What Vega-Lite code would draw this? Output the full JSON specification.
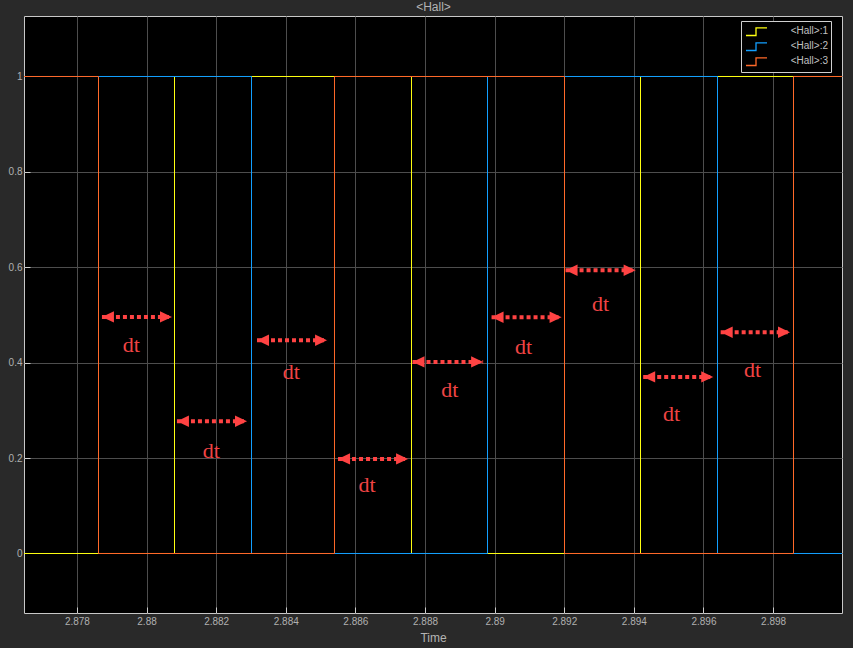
{
  "$schema": "https://vega.github.io/schema/vega-lite/v6.json",
  "width": 818,
  "height": 597,
  "autosize": "none",
  "padding": {"left": 24, "top": 16, "right": 11, "bottom": 35},
  "background": "#292929",
  "resolve": {"axis": {"x": "independent"}},
  "config": {
    "view": {"fill": "#000000", "stroke": "#c8c8c8", "strokeWidth": 1},
    "axis": {
      "grid": true, "gridColor": "#4d4d4d", "gridWidth": 1, "domain": false,
      "ticks": true, "tickSize": -6, "tickColor": "#cfcfcf",
      "labelColor": "#b0b0b0", "labelFont": "Liberation Sans", "labelFontSize": 10,
      "titleColor": "#b4b4b4", "titleFont": "Liberation Sans", "titleFontSize": 12, "titleFontWeight": "normal"
    }
  },
  "datasets": {
    "sig": [
      {"series": "<Hall>:1", "t": 2.87648, "v": 0},
      {"series": "<Hall>:1", "t": 2.8808037, "v": 1},
      {"series": "<Hall>:1", "t": 2.8876123, "v": 0},
      {"series": "<Hall>:1", "t": 2.8941912, "v": 1},
      {"series": "<Hall>:1", "t": 2.89998, "v": 1},
      {"series": "<Hall>:2", "t": 2.87648, "v": 1},
      {"series": "<Hall>:2", "t": 2.8830158, "v": 0},
      {"series": "<Hall>:2", "t": 2.8897957, "v": 1},
      {"series": "<Hall>:2", "t": 2.8964033, "v": 0},
      {"series": "<Hall>:2", "t": 2.89998, "v": 0},
      {"series": "<Hall>:3", "t": 2.87648, "v": 1},
      {"series": "<Hall>:3", "t": 2.8786203, "v": 0},
      {"series": "<Hall>:3", "t": 2.8854002, "v": 1},
      {"series": "<Hall>:3", "t": 2.8920078, "v": 0},
      {"series": "<Hall>:3", "t": 2.8985867, "v": 1},
      {"series": "<Hall>:3", "t": 2.89998, "v": 1}
    ],
    "ann": [
      {"x1": 2.878719, "x2": 2.880731, "y": 0.4960, "tx": 2.879564, "ty": 0.4220, "label": "dt"},
      {"x1": 2.880874, "x2": 2.882886, "y": 0.2774, "tx": 2.881863, "ty": 0.2004, "label": "dt"},
      {"x1": 2.883174, "x2": 2.885186, "y": 0.4472, "tx": 2.884163, "ty": 0.3648, "label": "dt"},
      {"x1": 2.885502, "x2": 2.887514, "y": 0.1983, "tx": 2.886336, "ty": 0.1291, "label": "dt"},
      {"x1": 2.887641, "x2": 2.889670, "y": 0.4017, "tx": 2.888713, "ty": 0.3283, "label": "dt"},
      {"x1": 2.889912, "x2": 2.891924, "y": 0.4954, "tx": 2.890831, "ty": 0.4178, "label": "dt"},
      {"x1": 2.892038, "x2": 2.894051, "y": 0.5939, "tx": 2.893045, "ty": 0.5086, "label": "dt"},
      {"x1": 2.894269, "x2": 2.896281, "y": 0.3702, "tx": 2.895085, "ty": 0.2780, "label": "dt"},
      {"x1": 2.896494, "x2": 2.898486, "y": 0.4639, "tx": 2.897414, "ty": 0.3702, "label": "dt"}
    ]
  },
  "layer": [
    {
      "data": {"name": "sig"},
      "transform": [{"filter": "datum.series === '<Hall>:1'"}],
      "mark": {"type": "line", "interpolate": "step-after", "strokeWidth": 1, "clip": true},
      "encoding": {
        "x": {"field": "t", "type": "quantitative", "title": "Time",
              "scale": {"domain": [2.87648, 2.89998], "nice": false, "zero": false},
              "axis": {"orient": "bottom", "values": [2.878, 2.88, 2.882, 2.884, 2.886, 2.888, 2.89, 2.892, 2.894, 2.896, 2.898], "format": "~g", "labelPadding": 9, "titlePadding": 6}},
        "y": {"field": "v", "type": "quantitative", "title": null,
              "scale": {"domain": [-0.12474, 1.12683], "nice": false, "zero": false},
              "axis": {"values": [0, 0.2, 0.4, 0.6, 0.8, 1], "format": "~g", "labelPadding": 8}},
        "color": {"field": "series", "type": "nominal", "title": null,
                  "scale": {"domain": ["<Hall>:1", "<Hall>:2", "<Hall>:3"], "range": ["#ffff11", "#129fff", "#ff6929"]},
                  "legend": {
                    "orient": "none", "legendX": 717, "legendY": 5, "title": null,
                    "symbolType": "M-0.818,0.909H1V-0.49H3", "symbolSize": 121, "symbolStrokeWidth": 1.3, "symbolFillColor": "transparent",
                    "labelAlign": "right", "labelOffset": 71, "labelFontSize": 10, "labelFont": "Liberation Sans", "labelColor": "#c0c0c0",
                    "padding": 3, "rowPadding": -2, "strokeColor": "#d0d0d0", "fillColor": "#000000", "cornerRadius": 0
                  }},
        "order": {"value": 1}
      }
    },
    {
      "data": {"name": "sig"},
      "transform": [{"filter": "datum.series === '<Hall>:2'"}],
      "mark": {"type": "line", "interpolate": "step-after", "strokeWidth": 1, "clip": true},
      "encoding": {
        "x": {"field": "t", "type": "quantitative", "axis": null},
        "y": {"field": "v", "type": "quantitative", "title": null},
        "color": {"field": "series", "type": "nominal", "title": null},
        "order": {"value": 2}
      }
    },
    {
      "data": {"name": "sig"},
      "transform": [{"filter": "datum.series === '<Hall>:3'"}],
      "mark": {"type": "line", "interpolate": "step-after", "strokeWidth": 1, "clip": true},
      "encoding": {
        "x": {"field": "t", "type": "quantitative", "axis": null},
        "y": {"field": "v", "type": "quantitative", "title": null},
        "color": {"field": "series", "type": "nominal", "title": null},
        "order": {"value": 3}
      }
    },
    {
      "data": {"name": "ann"},
      "mark": {"type": "rule", "color": "#ff4343", "strokeWidth": 4, "strokeDash": [4, 3], "strokeCap": "butt"},
      "encoding": {
        "x": {"field": "x1", "type": "quantitative", "axis": null},
        "x2": {"field": "x2"},
        "y": {"field": "y", "type": "quantitative", "title": null},
        "order": {"value": 4}
      }
    },
    {
      "data": {"name": "ann"},
      "mark": {"type": "point", "shape": "M0,0L2,-0.95L2,0.95Z", "size": 144, "filled": true, "color": "#ff4343", "opacity": 1, "strokeWidth": 0},
      "encoding": {
        "x": {"field": "x1", "type": "quantitative", "axis": null},
        "y": {"field": "y", "type": "quantitative", "title": null},
        "order": {"value": 5}
      }
    },
    {
      "data": {"name": "ann"},
      "mark": {"type": "point", "shape": "M0,0L-2,-0.95L-2,0.95Z", "size": 144, "filled": true, "color": "#ff4343", "opacity": 1, "strokeWidth": 0},
      "encoding": {
        "x": {"field": "x2", "type": "quantitative", "axis": null},
        "y": {"field": "y", "type": "quantitative", "title": null},
        "order": {"value": 5}
      }
    },
    {
      "data": {"name": "ann"},
      "mark": {"type": "text", "font": "Liberation Serif", "fontSize": 22, "color": "#f04444", "baseline": "alphabetic", "align": "center"},
      "encoding": {
        "x": {"field": "tx", "type": "quantitative", "title": "<Hall>",
              "axis": {"orient": "top", "labels": false, "ticks": false, "grid": false, "domain": false, "titlePadding": 3, "minExtent": 0, "maxExtent": 0, "titleFontSize": 12, "titleColor": "#b4b4b4"}},
        "y": {"field": "ty", "type": "quantitative", "title": null},
        "text": {"field": "label"}
      }
    }
  ]
}
